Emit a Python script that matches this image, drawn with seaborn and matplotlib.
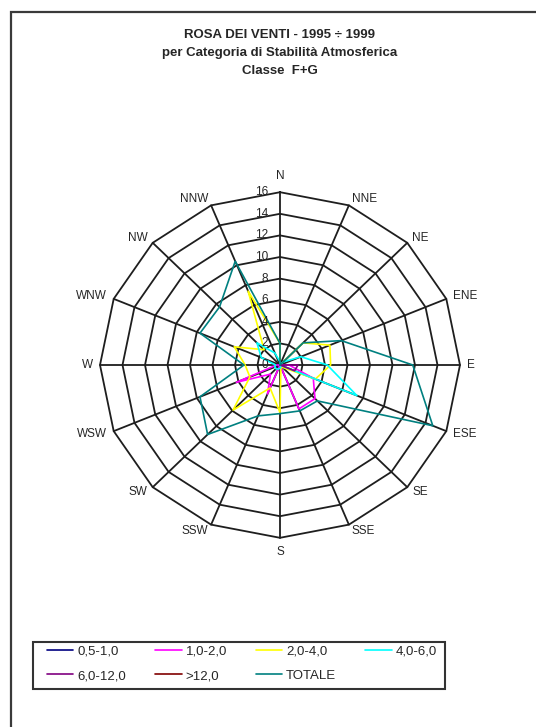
import numpy as np
import pandas as pd
import matplotlib
matplotlib.use('Agg')
import matplotlib.pyplot as plt
import matplotlib.patches as mpatches
import seaborn as sns

# wind directions (clockwise from north)
directions = ['N', 'NNE', 'NE', 'ENE', 'E', 'ESE', 'SE', 'SSE',
              'S', 'SSW', 'SW', 'WSW', 'W', 'WNW', 'NW', 'NNW']

# frequency (%) per speed class, same order as directions
v_05_10 = [0.0, 0.0, 0.0, 0.0, 0.2, 0.3, 0.3, 0.2, 0.0, 0.0, 0.0, 0.2, 0.0, 0.0, 0.0, 0.0]
v_10_20 = [0.0, 0.0, 0.0, 0.0, 0.8, 3.2, 4.4, 4.4, 0.0, 2.9, 1.2, 4.2, 0.3, 0.0, 0.0, 0.0]
v_20_40 = [2.0, 0.0, 2.9, 4.8, 4.5, 3.4, 0.3, 0.2, 4.4, 2.3, 5.9, 2.9, 3.1, 4.4, 2.0, 7.4]
v_40_60 = [0.3, 0.0, 0.4, 2.0, 4.2, 7.4, 0.0, 0.2, 0.3, 0.4, 0.5, 0.5, 0.4, 1.8, 2.9, 1.2]
v_60_120 = [0.0, 0.0, 0.0, 0.0, 1.6, 1.4, 0.0, 0.0, 0.0, 0.0, 0.0, 0.0, 0.0, 0.0, 0.0, 0.0]
v_120 = [0.0] * 16
totale = [2.0, 0.0, 2.9, 5.9, 11.8, 14.7, 4.7, 4.6, 4.5, 5.1, 9.1, 7.7, 3.2, 7.7, 7.6, 10.4]

series_names = ['0,5-1,0', '1,0-2,0', '2,0-4,0', '4,0-6,0', '6,0-12,0', '>12,0', 'TOTALE']
series_values = [v_05_10, v_10_20, v_20_40, v_40_60, v_60_120, v_120, totale]
series_colors = ['#000080', '#FF00FF', '#FFFF00', '#00FFFF', '#800080', '#800000', '#008080']

ring_ticks = [0, 2, 4, 6, 8, 10, 12, 14, 16]

title_lines = ['ROSA DEI VENTI - 1995 \u00f7 1999',
               'per Categoria di Stabilit\u00e0 Atmosferica',
               'Classe  F+G']

sns.set_style('white')
plt.rcParams['font.family'] = ['Liberation Sans', 'DejaVu Sans']

W, H = 536, 727
f = plt.figure(figsize=(W / 100, H / 100), dpi=100)

# axes placed so that the radar is centred at (280, 365) px
# 20 units = 225 px horizontally, 216 px vertically (slightly stretched like Excel)
cx, cy, hx, hy = 280, 365, 225, 216
ax = f.add_axes([(cx - hx) / W, (H - cy - hy) / H, 2 * hx / W, 2 * hy / H])
ax.set_xlim(-20, 20)
ax.set_ylim(-20, 20)
ax.axis('off')

theta = np.deg2rad(np.arange(16) * 22.5)

# polygon grid
for r in ring_ticks[1:]:
    gx = np.append(r * np.sin(theta), 0)
    gy = np.append(r * np.cos(theta), r)
    ax.plot(gx, gy, color='#1e1e1e', lw=1.3, zorder=1)
for t in theta:
    ax.plot([0, 16 * np.sin(t)], [0, 16 * np.cos(t)], color='#1e1e1e', lw=1.3, zorder=1)

# long table for seaborn, each polygon closed on itself
rows = []
for name, vals in zip(series_names, series_values):
    for i in list(range(16)) + [0]:
        rows.append({'serie': name, 'x': vals[i] * np.sin(theta[i]), 'y': vals[i] * np.cos(theta[i])})
df = pd.DataFrame(rows)

sns.lineplot(data=df, x='x', y='y', hue='serie', hue_order=series_names,
             palette=series_colors, sort=False, estimator=None, lw=1.2, ax=ax)

# radial value labels along N axis
for v in ring_ticks:
    ax.annotate(str(v), (0, v), xytext=(-8.5, 0), textcoords='offset points',
                ha='right', va='center', fontsize=8.5, zorder=3)

# direction labels
for d, t in zip(directions, theta):
    s, c = np.sin(t), np.cos(t)
    if d == 'N':
        off, ha = (0, 12), 'center'
    elif d == 'S':
        off, ha = (0, -10), 'center'
    else:
        off = (5 * s, 5 * c)
        ha = 'left' if s > 0 else 'right'
    ax.annotate(d, (16 * s, 16 * c), xytext=off, textcoords='offset points',
                ha=ha, va='center', fontsize=8.5)

# titles
for txt, ypx in zip(title_lines, [35, 53, 71]):
    f.text(280 / W, 1 - ypx / H, txt, ha='center', va='center', fontsize=9.5, fontweight='bold')

# legend, row-major order like the original
handles, labels = ax.get_legend_handles_labels()
ax.get_legend().remove()
order = [0, 4, 1, 5, 2, 6, 3]
leg = f.legend([handles[i] for i in order], [labels[i] for i in order], ncol=4,
               loc='upper left', bbox_to_anchor=(47 / W, 1 - 645 / H),
               frameon=False, borderaxespad=0, borderpad=0,
               handlelength=2.0, handletextpad=0.3, columnspacing=2.2,
               fontsize=9.5, labelspacing=0.95)

# legend box
f.patches.append(mpatches.Rectangle((33 / W, 1 - 689 / H), 412 / W, 47 / H, transform=f.transFigure,
                                    fill=False, edgecolor='#333333', lw=1.5))

# page frame (left and top edges visible)
f.patches.append(mpatches.Rectangle((11 / W, -0.1), 1.2, 1.1 - 12 / H, transform=f.transFigure,
                                    fill=False, edgecolor='#3a3a3a', lw=1.6))

plt.savefig('out.png', dpi=100)
